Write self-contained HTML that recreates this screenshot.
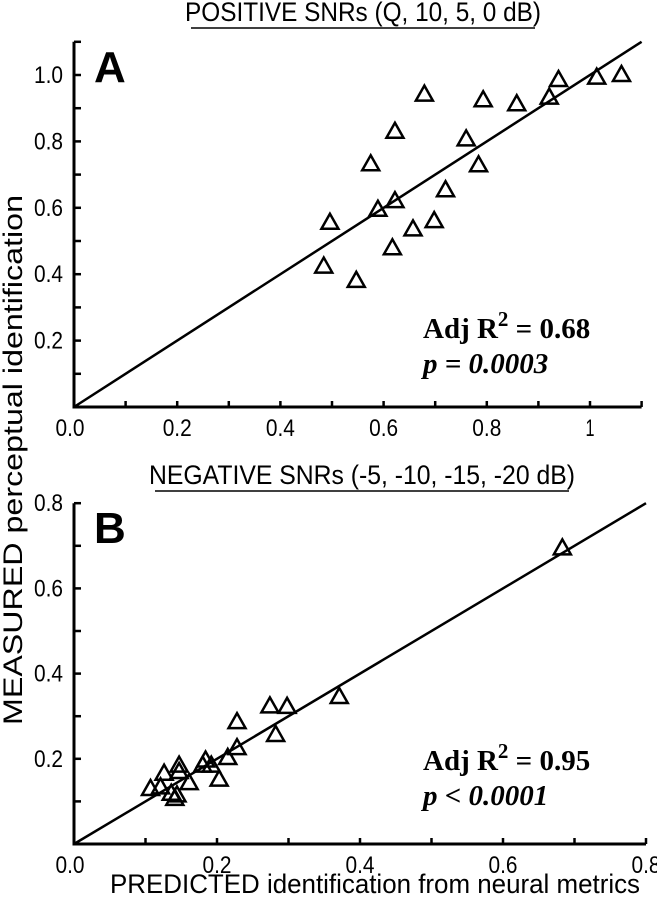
<!DOCTYPE html>
<html><head><meta charset="utf-8">
<style>
html,body{margin:0;padding:0;background:#fff;}
svg{display:block;}
.sans{font-family:"Liberation Sans",sans-serif;}
.serif{font-family:"Liberation Serif",serif;font-weight:bold;}
</style></head>
<body>
<svg id="chart" width="657" height="900" viewBox="0 0 657 900" xmlns="http://www.w3.org/2000/svg">
<g id="gA"></g>
<g id="gB"></g>
<text class="sans" x="22" y="460" font-size="27" text-anchor="middle" textLength="530" lengthAdjust="spacingAndGlyphs" transform="rotate(-90 22 460)">MEASURED perceptual identification</text>
<text class="sans" x="375" y="893" font-size="27" text-anchor="middle" textLength="530" lengthAdjust="spacingAndGlyphs">PREDICTED identification from neural metrics</text>
</svg>
<script>
const aX = [0.484,0.496,0.547,0.575,0.589,0.622,0.617,0.622,0.657,0.679,0.698,0.720,0.760,0.784,0.793,0.858,0.921,0.939,1.013,1.061];
const aY = [0.423,0.555,0.380,0.731,0.594,0.620,0.478,0.829,0.535,0.941,0.560,0.653,0.806,0.728,0.924,0.912,0.932,0.985,0.992,1.000];
const bX = [0.683,0.371,0.274,0.298,0.282,0.228,0.228,0.215,0.203,0.184,0.180,0.192,0.161,0.147,0.147,0.141,0.144,0.126,0.121,0.107,0.136];
const bY = [0.694,0.345,0.323,0.322,0.256,0.286,0.225,0.202,0.151,0.196,0.184,0.184,0.143,0.184,0.169,0.106,0.114,0.165,0.133,0.129,0.118];
const aXTicks = ["0.0","0.2","0.4","0.6","0.8","1"];
const aXTickVals = [0,0.2,0.4,0.6,0.8,1.0];
const aYTicks = ["0.2","0.4","0.6","0.8","1.0"];
const aYTickVals = [0.2,0.4,0.6,0.8,1.0];
const bXTicks = ["0.0","0.2","0.4","0.6","0.8"];
const bXTickVals = [0,0.2,0.4,0.6,0.8];
const bYTicks = ["0.2","0.4","0.6","0.8"];
const bYTickVals = [0.2,0.4,0.6,0.8];
const NS="http://www.w3.org/2000/svg";
function mk(parent,tag,attrs){const e=document.createElementNS(NS,tag);for(const k in attrs)e.setAttribute(k,attrs[k]);parent.appendChild(e);return e;}

function panel(g,cfg){
  const sx=v=>cfg.x0+v*cfg.kx, sy=v=>cfg.y0-v*cfg.ky;
  const t=mk(g,'text',{x:cfg.titleX,y:cfg.titleY,'font-size':27,'text-anchor':'middle','class':'sans',textLength:cfg.titleW,lengthAdjust:'spacingAndGlyphs'});
  
  
  t.textContent=cfg.title;
  const u=mk(g,'line',{x1:cfg.titleX-cfg.titleW/2+6,x2:cfg.titleX+cfg.titleW/2-6,y1:cfg.titleY+7,y2:cfg.titleY+7,stroke:'#000','stroke-width':1.5});
  
  
  const ax=mk(g,'path',{d:`M${sx(0)} ${sy(cfg.ymax)} L${sx(0)} ${sy(0)} L${sx(cfg.xmax)} ${sy(0)}`,fill:'none',stroke:'#000','stroke-width':3});
  
  
  for(let v=0.1;v<=cfg.xmax+1e-6;v+=0.1){
    const tk=mk(g,'line',{x1:sx(v),x2:sx(v),y1:sy(0),y2:sy(0)-6,stroke:'#000','stroke-width':2.5});
    
    
  }
  for(let v=0.1;v<=cfg.ymax+1e-6;v+=0.1){
    const tk=mk(g,'line',{x1:sx(0),x2:sx(0)+7,y1:sy(v),y2:sy(v),stroke:'#000','stroke-width':2.5});
    
    
  }
  cfg.xt.forEach((s,i)=>{
    const e=mk(g,'text',{x:sx(cfg.xtv[i])+(i===0?-4:0),y:cfg.y0+29,'font-size':24,'text-anchor':'middle','class':'sans',textLength:s.length===1?9:29,lengthAdjust:'spacingAndGlyphs'});
    
    
    e.textContent=s;
  });
  cfg.yt.forEach((s,i)=>{
    const e=mk(g,'text',{x:63,y:sy(cfg.ytv[i])+8,'font-size':24,'text-anchor':'end','class':'sans',textLength:29,lengthAdjust:'spacingAndGlyphs'});
    
    
    e.textContent=s;
  });
  const lm=Math.min(cfg.xmax,cfg.ymax);
  const ln=mk(g,'line',{x1:sx(0),y1:sy(0),x2:sx(lm),y2:sy(lm),stroke:'#000','stroke-width':2.5});
  
  
  cfg.px.forEach((xv,i)=>{
    const cx=sx(xv), cy=sy(cfg.py[i]);
    const p=mk(g,'polygon',{points:`${cx},${cy-9} ${cx-8.5},${cy+6} ${cx+8.5},${cy+6}`,fill:'none',stroke:'#000','stroke-width':2.5,'stroke-linejoin':'miter'});
    
    
  });
  const L=mk(g,'text',{x:94,y:cfg.letterY,'font-size':44,'font-weight':'bold','font-family':'"Liberation Sans",sans-serif'});
  
  
  L.textContent=cfg.letter;
  const r=mk(g,'text',{x:423,y:cfg.statY,'font-size':29,'class':'serif'});
  
  
  r.innerHTML='Adj R<tspan dy="-12" font-size="21">2</tspan><tspan dy="12"> = '+cfg.r2+'</tspan>';
  const p=mk(g,'text',{x:423,y:cfg.statY+35,'font-size':29,'class':'serif','font-style':'italic'});
  
  
  p.textContent=cfg.pv;
}
panel(document.getElementById('gA'),{x0:74,y0:407,kx:516,ky:332,xmax:1.1,ymax:1.1,title:'POSITIVE SNRs (Q, 10, 5, 0 dB)',titleX:363,titleW:356,titleY:21,
  xt:aXTicks,xtv:aXTickVals,yt:aYTicks,ytv:aYTickVals,px:aX,py:aY,letter:'A',letterY:82,statY:338,r2:'0.68',pv:'p = 0.0003'});
panel(document.getElementById('gB'),{x0:74,y0:844,kx:715,ky:426,xmax:0.8,ymax:0.8,title:'NEGATIVE SNRs (-5, -10, -15, -20 dB)',titleX:362,titleW:426,titleY:484,
  xt:bXTicks,xtv:bXTickVals,yt:bYTicks,ytv:bYTickVals,px:bX,py:bY,letter:'B',letterY:543,statY:770,r2:'0.95',pv:'p < 0.0001'});
</script>
</body></html>
